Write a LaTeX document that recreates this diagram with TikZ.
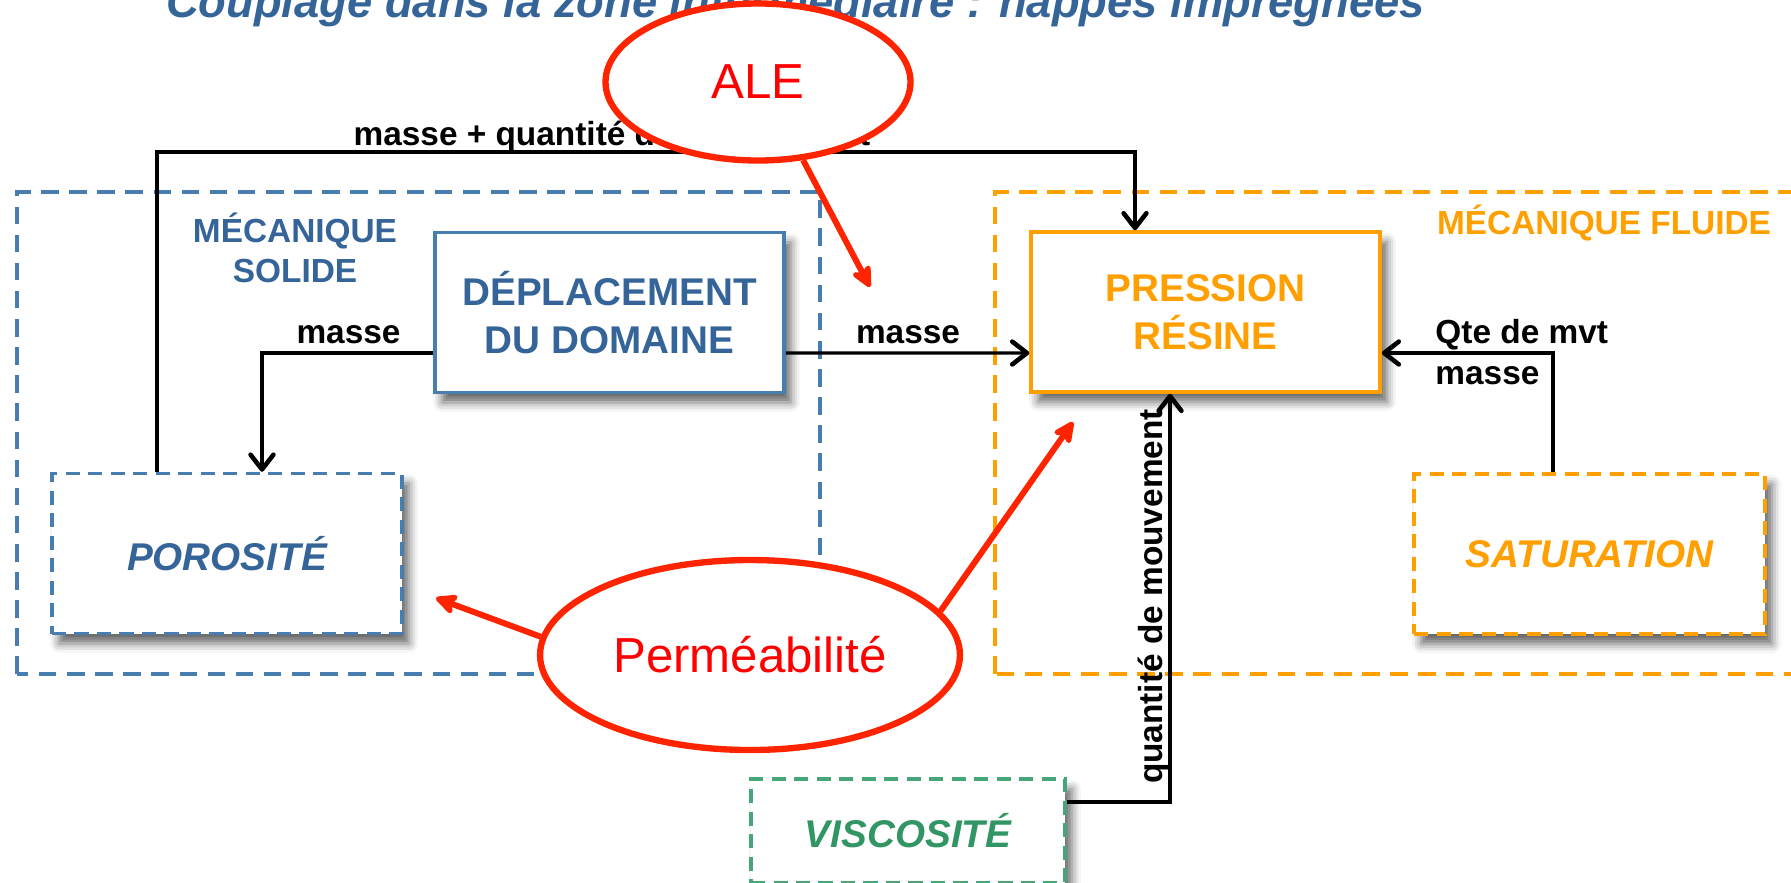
\documentclass[tikz,border=0pt]{standalone}
\usepackage{fontspec}
\setmainfont{Liberation Sans}
\usepackage{tikz}
\usetikzlibrary{arrows.meta, shapes.geometric, shadows.blur, positioning, calc}

\definecolor{MecaBlue}{RGB}{52,100,152}
\definecolor{MecaBlueLine}{RGB}{72,125,176}
\definecolor{FluidOrange}{RGB}{255,160,0}
\definecolor{ViscGreen}{RGB}{50,150,100}
\definecolor{ViscGreenLine}{RGB}{70,166,120}
\definecolor{NoteRed}{RGB}{255,36,0}

\tikzset{
  zone/.style={line width=0.9pt, dash pattern=on 5pt off 3pt},
  field/.style={rectangle, line width=1pt, fill=white, align=center,
        font=\fontsize{11}{13.7}\selectfont\bfseries,
        minimum width=3.49cm, minimum height=1.6cm,
        blur shadow={shadow xshift=0.7mm, shadow yshift=-1mm,
                     shadow blur radius=0.9mm, shadow opacity=60}},
  param/.style={field, dash pattern=on 4pt off 2.4pt,
        font=\fontsize{11}{13.7}\selectfont\bfseries\itshape},
  flow/.style={draw, line width=0.95pt,
        -{Straight Barb[length=4.2pt,width=6.5pt,line width=1.3pt,round]}},
  tag/.style={font=\fontsize{9.5}{11.7}\selectfont\bfseries},
  remark/.style={ellipse, draw=NoteRed, line width=1.8pt, fill=white,
        text=red, font=\fontsize{14}{16}\selectfont},
  hint/.style={draw=NoteRed, line width=1.7pt,
        -{Stealth[length=7.5pt,width=7pt,inset=1.8pt,round]}},
}

\begin{document}
\begin{tikzpicture}
  \useasboundingbox (0,0) rectangle (17.91,8.82);

  % Title, cut at the top of the page
  \node[anchor=base, font=\fontsize{12.9}{15}\selectfont\bfseries\itshape,
        text=MecaBlue] (title) at (7.955,8.65)
        {Couplage dans la zone intermédiaire : nappes imprégnées};

  % Zones
  \draw[zone, MecaBlueLine] (0.17,2.08) rectangle (8.20,6.90);
  \draw[zone, FluidOrange] (9.95,2.08) rectangle (18.3,6.90);
  \node[font=\fontsize{9.5}{11.4}\selectfont\bfseries, text=MecaBlue, align=center]
        (solide) at (2.95,6.34) {MÉCANIQUE\\SOLIDE};
  \node[font=\fontsize{9.5}{11.4}\selectfont\bfseries, text=FluidOrange]
        (fluide) at (16.04,6.59) {MÉCANIQUE FLUIDE};

  % Fields
  \node[field, draw=MecaBlueLine, text=MecaBlue] (dep) at (6.095,5.695)
        {DÉPLACEMENT\\DU DOMAINE};
  \node[field, draw=FluidOrange, text=FluidOrange] (pres) at (12.055,5.70)
        {PRESSION\\RÉSINE};

  % Parameters
  \node[param, draw=MecaBlueLine, text=MecaBlue, minimum width=3.5cm]
        (poro) at (2.27,3.285) {POROSITÉ};
  \node[param, draw=FluidOrange, text=FluidOrange, minimum width=3.51cm]
        (sat) at (15.895,3.28) {SATURATION};
  \node[param, draw=ViscGreenLine, text=ViscGreen, minimum width=3.14cm,
        minimum height=1.04cm] (visc) at (9.08,0.51) {VISCOSITÉ};

  % Couplings
  \coordinate (mq) at (1.57,7.30);
  \draw[flow] (poro.north -| mq) -- (mq) -| ([xshift=-7.05mm]pres.north);
  \node[tag] (mqlab) at (6.12,7.45) {masse + quantité de mouvement};

  \draw[flow] ([yshift=-4.05mm]dep.west) -| ([xshift=3.5mm]poro.north);
  \node[tag] (m1) at (3.485,5.47) {masse};

  \draw[flow] ([yshift=-4.05mm]dep.east) -- ([yshift=-4.1mm]pres.west);
  \node[tag] (m2) at (9.08,5.47) {masse};

  \draw[flow] ([xshift=-3.65mm]sat.north) |- ([yshift=-4.1mm]pres.east);
  \node[tag, anchor=west, align=left] (m3) at (14.23,5.30) {Qte de mvt\\masse};

  \draw[flow] ([yshift=2.9mm]visc.east) -| ([xshift=-3.55mm]pres.south);
  \node[tag, rotate=90] (qm) at (11.54,2.855) {quantité de mouvement};

  % Remarks in red
  \node[remark, minimum width=3.05cm, minimum height=1.57cm] (ale) at (7.58,8.00) {ALE};
  \node[remark, minimum width=4.05cm, minimum height=1.9cm] (perm) at (7.50,2.27) {Perméabilité};

  \coordinate (aleTip) at (8.70,5.95);
  \coordinate (poroTip) at (4.36,2.84);
  \coordinate (presTip) at (10.73,4.60);
  \draw[hint] (ale.300) -- (aleTip);
  \draw[hint] (perm.175) -- (poroTip);
  \draw[hint] (perm.13) -- (presTip);
\end{tikzpicture}
\end{document}
